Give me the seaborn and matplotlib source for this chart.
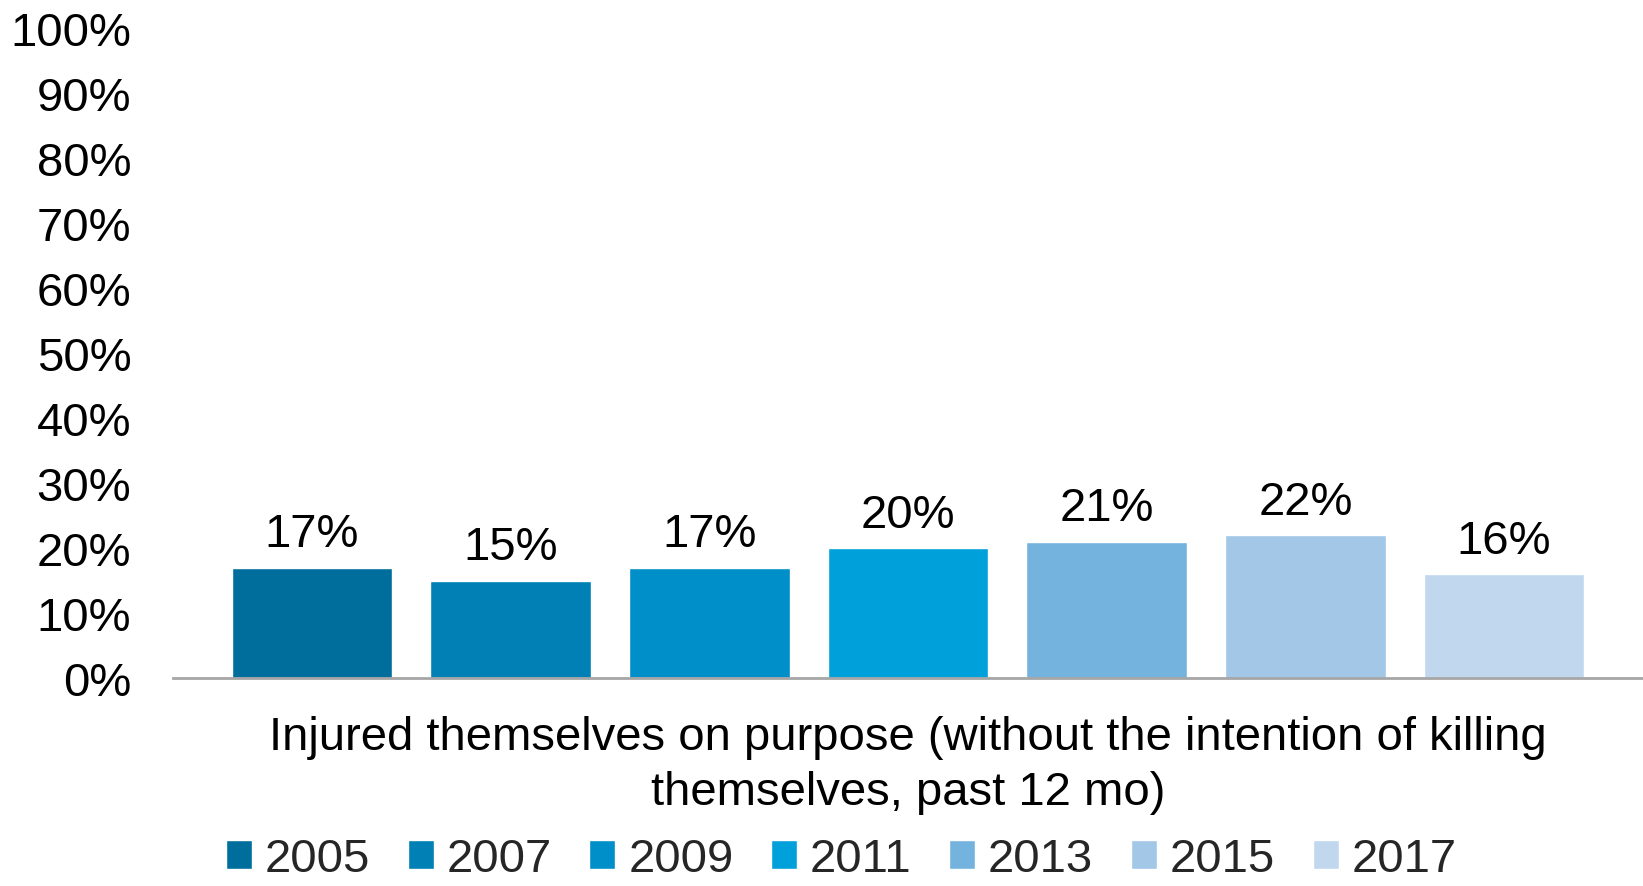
import matplotlib
matplotlib.use("Agg")
import matplotlib.pyplot as plt
import seaborn as sns
import pandas as pd

# Share of students who injured themselves on purpose, by survey year
measure = "Injured themselves on purpose (without the intention of killing\nthemselves, past 12 mo)"
years = ["2005", "2007", "2009", "2011", "2013", "2015", "2017"]
values = [17, 15, 17, 20, 21, 22, 16]
colors = ["#006E9C", "#0080B4", "#008FC8", "#00A0DA", "#74B3DE", "#A2C7E7", "#C0D7EE"]
yticks = [0, 10, 20, 30, 40, 50, 60, 70, 80, 90, 100]

df = pd.DataFrame({"measure": [measure] * len(years), "year": years, "value": values})

sns.set_theme(style="white")
plt.rcParams["font.family"] = ["Liberation Sans", "DejaVu Sans"]

FS = 34
fig = plt.figure(figsize=(16.43, 8.87), dpi=100)
ax = fig.add_axes([0.1053, 0.2345, 0.8947, 0.967 - 0.2345])

sns.barplot(data=df, x="measure", y="value", hue="year", hue_order=years,
            palette=colors, width=0.946, gap=0.19, saturation=1,
            legend=True, ax=ax)

for cont, v in zip(ax.containers, values):
    ax.bar_label(cont, labels=[f"{v}%"], padding=8, fontsize=FS, color="black")

ax.set_ylim(0, 100)
ax.set_yticks(yticks)
ax.set_yticklabels([f"{t}%" for t in yticks])
ax.set_xlim(-0.5, 0.5)
ax.set_xlabel("")
ax.set_ylabel("")

ax.tick_params(axis="y", length=0, pad=30, labelsize=FS, labelcolor="black")
ax.tick_params(axis="x", length=0, pad=27, labelsize=FS, labelcolor="black")
for lbl in ax.get_xticklabels():
    lbl.set_linespacing(1.3)

for side in ["left", "right", "top"]:
    ax.spines[side].set_visible(False)
ax.spines["bottom"].set_color("#A6A6A6")
ax.spines["bottom"].set_linewidth(2)
ax.grid(False)

handles, labels = ax.get_legend_handles_labels()
ax.get_legend().remove()
fig.legend(handles, labels, loc="lower center", bbox_to_anchor=(0.512, -0.016),
           ncol=len(years), frameon=False, fontsize=FS,
           handlelength=0.55, handleheight=0.55, handletextpad=0.27,
           columnspacing=0.8, borderaxespad=0)

fig.savefig("out.png", dpi=100)
